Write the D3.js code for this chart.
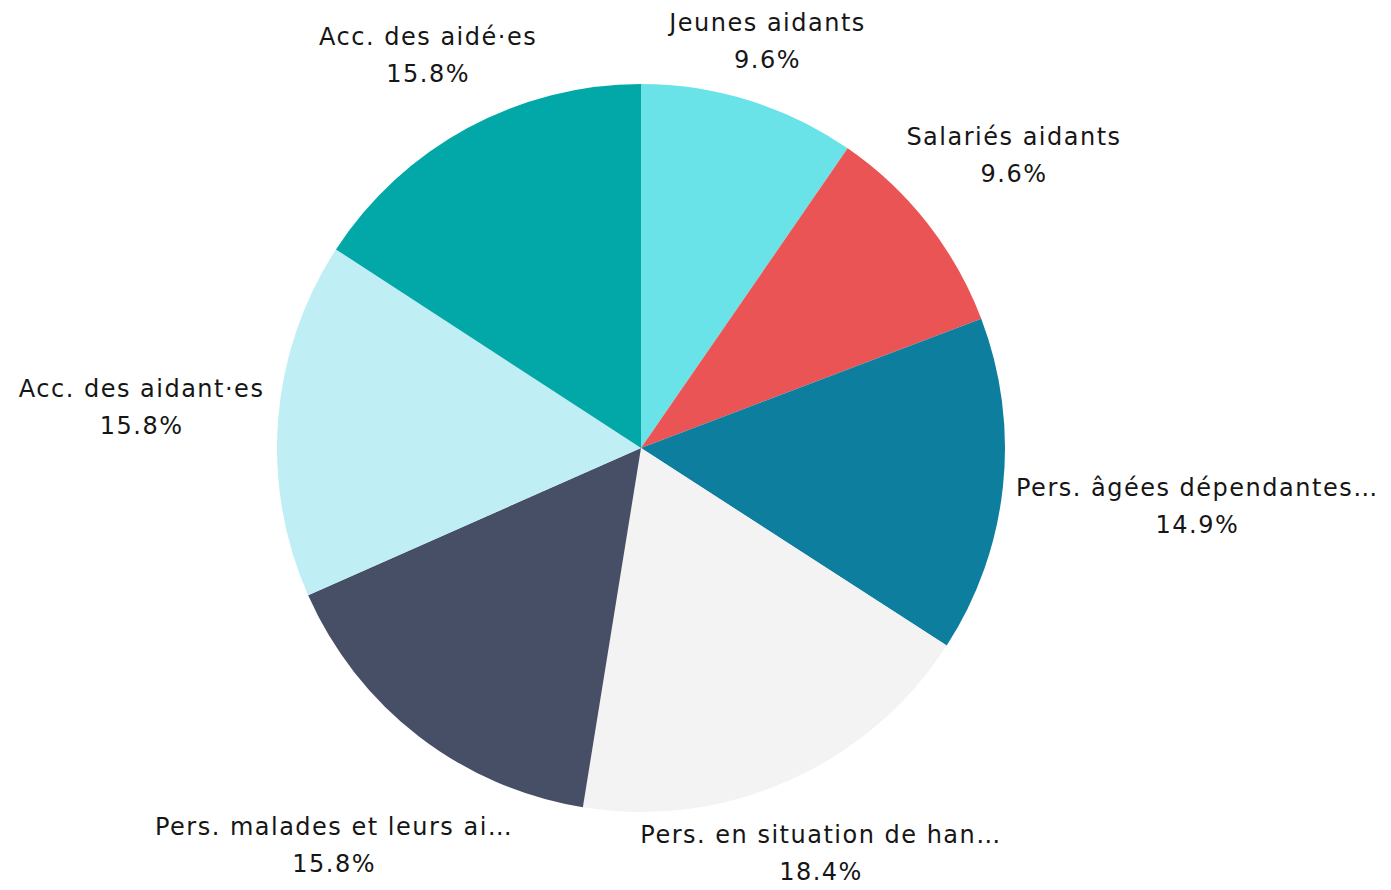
<!DOCTYPE html>
<html>
<head>
<meta charset="utf-8">
<script src="https://cdn.jsdelivr.net/npm/d3@7"></script>
<style>
  html, body { margin: 0; padding: 0; background: #ffffff; }
  svg { display: block; }
  text { font-family: "DejaVu Sans", sans-serif; fill: #161616; letter-spacing: 1.5px; }
</style>
</head>
<body>
<svg id="chart" width="1391" height="890"></svg>
<script>
const categories = [
  "Jeunes aidants",
  "Salariés aidants",
  "Pers. âgées dépendantes…",
  "Pers. en situation de han…",
  "Pers. malades et leurs ai…",
  "Acc. des aidant·es",
  "Acc. des aidé·es"
];
const values = [9.6, 9.6, 14.9, 18.4, 15.8, 15.8, 15.8];
const palette = ["#6ae3e8", "#eb5454", "#0e7e9e", "#f3f3f3", "#474f66", "#bfeff5", "#02a8a8"];

const W = 1391, H = 890;
const cx = 641, cy = 448, radius = 364;
const labelGap = 13;
const fontSize = 24;
const lineGap = 37;
const boxH = 40;

const svg = d3.select("#chart");
const g = svg.append("g").attr("transform", `translate(${cx},${cy})`);

const data = categories.map((c, i) => ({ name: c, value: values[i], color: palette[i] }));
const pie = d3.pie().sort(null).value(d => d.value);
const arc = d3.arc().innerRadius(0).outerRadius(radius);
const arcs = pie(data);

g.selectAll("path.slice")
  .data(arcs)
  .join("path")
  .attr("class", "slice")
  .attr("d", arc)
  .attr("fill", d => d.data.color);

const labels = g.selectAll("g.label")
  .data(arcs)
  .join("g")
  .attr("class", "label");

labels.each(function(d) {
  const sel = d3.select(this);
  const t1 = sel.append("text")
    .attr("text-anchor", "middle")
    .attr("dominant-baseline", "central")
    .attr("font-size", fontSize)
    .attr("y", -lineGap / 2)
    .text(d.data.name);
  const t2 = sel.append("text")
    .attr("text-anchor", "middle")
    .attr("dominant-baseline", "central")
    .attr("font-size", fontSize)
    .attr("y", lineGap / 2)
    .text(d3.format(".1f")(d.data.value) + "%");
  const w = Math.max(t1.node().getBBox().width, t2.node().getBBox().width);
  const a = (d.startAngle + d.endAngle) / 2;
  const s = Math.sin(a), c = Math.cos(a);
  // distance along the mid-angle ray so that the label box clears the pie
  let D = radius + labelGap + Math.abs(s) * w / 2 + Math.abs(c) * boxH / 2;
  // keep the block inside the drawing area vertically
  const maxY = H - cy - 37;
  if (-c * D > maxY) D = maxY / -c;
  sel.attr("transform", `translate(${s * D},${-c * D})`);
});
</script>
</body>
</html>
